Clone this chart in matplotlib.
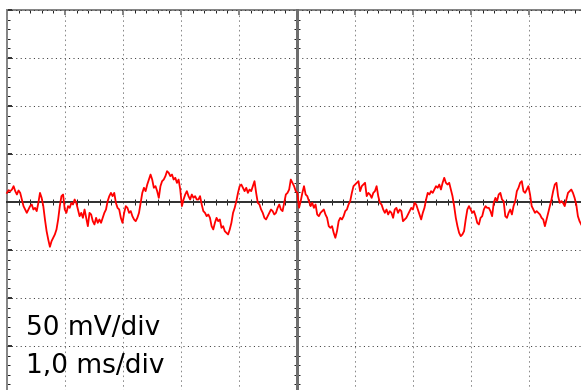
import numpy as np
import matplotlib
matplotlib.use("Agg")
import matplotlib.pyplot as plt
from matplotlib.ticker import MultipleLocator, NullFormatter

# scope settings
volts_per_div = 50    # mV
time_per_div = 1.0    # ms
n_div_x = 10
n_div_y = 8
trace_end = 9.9       # ms, last sample on screen

# channel trace in mV, equally spaced samples from t = 0 to trace_end
trace_mv = [
    9.5, 12.3, 11.3, 13.0, 16.5, 11.3, 7.8, 12.0, 9.5, 2.6, -4.3, -7.8, -11.3, -7.8,
    -4.3, -2.6, -7.8, -6.1, -9.5, -0.9, 9.5, 4.3, -4.3, -18.2, -30.4, -39.1, -46.7,
    -40.8, -37.3, -33.8, -28.6, -18.2, -4.3, 6.1, 7.8, -7.8, -11.3, -4.3, -6.1, -0.9,
    -2.6, 2.6, -0.9, -7.8, -14.8, -11.3, -16.5, -7.8, -16.5, -25.2, -11.3, -13.0,
    -20.0, -23.4, -16.5, -21.7, -18.2, -21.7,
    -16.5, -11.3, -7.8, 0.9, 6.1, 9.5, 6.1, 9.5, -0.9, -6.1, -7.8, -16.5, -21.7,
    -11.3, -4.3, -6.1, -11.3, -9.5, -14.8, -18.2, -20.0, -16.5, -11.3, -0.9, 9.5,
    14.8, 11.3, 18.2, 23.4, 28.6, 23.4, 14.8, 16.5, 11.3, 4.3, 16.5, 21.7, 23.4,
    26.9, 32.1, 30.4, 26.9, 28.6, 23.4, 25.2, 19.9, 23.4, 13.0, -4.3, 2.6, 7.8,
    11.3, 6.1, 2.6, 7.8, 4.3, 6.1, 2.6,
    2.6, 6.1, -2.6, -9.5, -11.3, -14.8, -13.0, -16.5, -25.2, -28.6, -21.7, -16.5,
    -20.0, -18.2, -26.9, -25.2, -30.4, -32.1, -33.8, -28.6, -21.7, -11.3, -6.1, 0.9,
    9.5, 16.5, 18.2, 14.8, 11.3, 14.8, 9.5, 13.0, 11.3, 16.5, 21.7, 9.5, -0.9, -2.6,
    -7.8, -11.3, -16.5, -18.2, -14.8, -11.3, -7.8, -9.5, -13.0, -11.3, -6.1, -2.6,
    -7.8, -9.5, -0.9, 7.8, 9.5, 13.0, 23.4, 19.9, 16.5,
    11.3, 9.5, -6.0, 0.9, 9.5, 16.5, 7.8, 6.1, 0.9, -4.3, -0.9, -6.1, -2.6, -13.0,
    -14.8, -11.3, -9.5, -7.8, -13.0, -16.5, -25.2, -26.9, -25.2, -32.1, -37.3, -30.4,
    -20.0, -16.5, -18.2, -14.8, -9.5, -7.8, -2.6, 0.9, 9.5, 16.5, 18.2, 20.0, 21.7,
    11.3, 16.5, 18.2, 20.0, 6.1, 9.5, 7.8, 4.3, 9.5, 11.3, 16.5, 6.1, -0.9, -2.6,
    -7.8, -11.3, -7.8, -13.0, -9.5, -11.3,
    -16.5, -7.8, -6.1, -11.3, -7.8, -9.5, -20.0, -18.2, -16.5, -13.0, -9.5, -6.1,
    -7.8, -0.9, -2.6, -7.8, -13.0, -18.2, -11.3, -6.1, 2.6, 9.5, 7.8, 11.3, 9.5,
    13.0, 16.5, 14.8, 18.2, 13.0, 20.0, 25.2, 20.0, 18.2, 20.0, 13.0, 6.1, -4.3,
    -16.5, -25.2, -32.1, -35.6, -33.8, -30.4, -18.2, -7.8, -4.3, -7.8, -11.3, -9.5,
    -14.8, -21.7, -23.4, -16.5, -14.8, -7.8, -4.3, -6.1,
    -6.1, -9.5, -14.8, -0.9, 4.3, 0.9, 7.8, 9.5, 2.6, 0.9, -14.8, -16.5, -11.3,
    -7.8, -13.0, -4.3, 0.9, 11.3, 14.8, 20.0, 21.7, 11.3, 9.5, 13.0, 16.5, 7.8,
    -4.3, -7.8, -11.3, -9.5, -11.3, -13.0, -16.5, -18.2, -25.2, -18.2, -11.3, -4.3,
    2.6, 11.3, 18.2, 20.0, 6.1, -0.9, 0.9, -0.9, -4.3, 2.6, 9.5, 11.3, 13.0, 9.5,
    4.3, -2.6, -14.8, -20.0, -23.4,
]

labels = ["50 mV/div", "1,0 ms/div"]

t = np.linspace(0, trace_end, len(trace_mv))

W, H = 581, 390
fig = plt.figure(figsize=(W / 100, H / 100), dpi=100)
# screen is slightly larger than the picture: right and bottom edges are cut off
ax = fig.add_axes([7 / W, -4 / H, 580 / W, 384 / H])
half_y = volts_per_div * n_div_y / 2
ax.set_xlim(0, n_div_x * time_per_div)
ax.set_ylim(-half_y, half_y)

px = 0.72  # one pixel in points

# centre cross made from the bottom/right spines
ax.spines['bottom'].set_position(('data', 0))
ax.spines['bottom'].set_color('#333333')
ax.spines['bottom'].set_linewidth(2 * px)
ax.spines['right'].set_position(('data', n_div_x * time_per_div / 2))
ax.spines['right'].set_color('#6e6e6e')
ax.spines['right'].set_linewidth(3 * px)
ax.spines['top'].set_visible(False)
ax.spines['left'].set_visible(False)

ax.xaxis.set_ticks_position('bottom')
ax.yaxis.set_ticks_position('right')
ax.xaxis.set_major_locator(MultipleLocator(time_per_div))
ax.yaxis.set_major_locator(MultipleLocator(volts_per_div))
ax.xaxis.set_minor_locator(MultipleLocator(time_per_div / 5))
ax.yaxis.set_minor_locator(MultipleLocator(volts_per_div / 5))
ax.tick_params(which='both', direction='inout', length=6 * px, width=px,
               color='#222222', labelbottom=False, labelright=False)
ax.tick_params(which='major', length=0)

ax.xaxis.grid(True, which='major', color='#8a8a8a', lw=px, ls=(0, (1.6, 3.2)))
ax.yaxis.grid(True, which='major', color='#333333', lw=px, ls=(0, (1, 3.4)))

# screen border with its own small ticks
top = ax.secondary_xaxis('top')
top.spines['top'].set_color('#858585')
top.spines['top'].set_linewidth(2 * px)
top.xaxis.set_major_locator(MultipleLocator(time_per_div))
top.xaxis.set_minor_locator(MultipleLocator(time_per_div / 5))
top.xaxis.set_major_formatter(NullFormatter())
top.tick_params(which='minor', direction='in', length=3 * px, width=px, color='#222222')
top.tick_params(which='major', direction='in', length=5 * px, width=2 * px, color='#858585')

left = ax.secondary_yaxis('left')
left.spines['left'].set_color('#858585')
left.spines['left'].set_linewidth(2 * px)
left.yaxis.set_major_locator(MultipleLocator(volts_per_div))
left.yaxis.set_minor_locator(MultipleLocator(volts_per_div / 5))
left.yaxis.set_major_formatter(NullFormatter())
left.tick_params(which='minor', direction='in', length=3 * px, width=px, color='#222222')
left.tick_params(which='major', direction='in', length=5 * px, width=2 * px, color='#333333')

ax.plot(t, trace_mv, color='#ff0000', lw=1.3, zorder=3, clip_on=False)

fig.text(26 / W, 1 - 335 / H, labels[0], fontsize=19, family='DejaVu Sans',
         va='baseline', ha='left')
fig.text(26 / W, 1 - 373 / H, labels[1], fontsize=19, family='DejaVu Sans',
         va='baseline', ha='left')

fig.savefig('out.png', dpi=100)
